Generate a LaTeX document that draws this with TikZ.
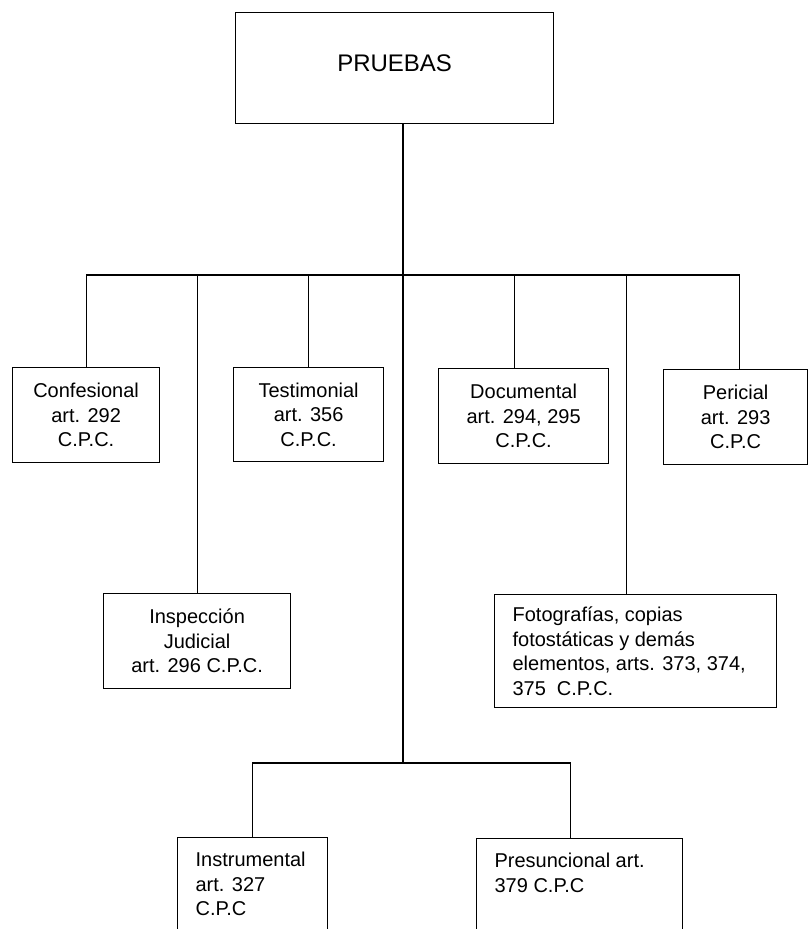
\documentclass[tikz,border=0pt]{standalone}
\usepackage{fontspec}
\setmainfont{Liberation Sans}
\begin{document}
\begin{tikzpicture}[x=1pt,y=-1pt,
  box/.style={draw, line width=1.2pt, rectangle, inner sep=0pt, anchor=north west,
    font=\fontsize{20}{24.5}\selectfont},
  conn/.style={line width=1.2pt}]
\useasboundingbox (0,0) rectangle (808,929);
\clip (0,0) rectangle (808,929);
\fill[white] (0,0) rectangle (808,929);
% root
\node[box] (root) at (235,12) {\parbox[c][111pt][c]{318pt}{\centering\fontsize{24}{28}\selectfont PRUEBAS\par\vspace{9pt}}};
% first level
\node[box] (conf) at (12,367) {\parbox[c][95pt][c]{147pt}{\centering Confesional\\art. 292\\C.P.C.}};
\node[box] (test) at (233,367) {\parbox[c][94pt][c]{150pt}{\centering Testimonial\\art. 356\\C.P.C.}};
\node[box] (doc) at (438,368) {\parbox[c][95pt][c]{170pt}{\centering Documental\\art. 294, 295\\C.P.C.}};
\node[box] (per) at (663,369) {\parbox[c][95pt][c]{144pt}{\centering Pericial\\art. 293\\C.P.C}};
\node[box] (insp) at (103,593) {\parbox[c][95pt][c]{187pt}{\centering Inspección\\Judicial\\art. 296 C.P.C.}};
\node[box, inner xsep=18pt] (foto) at (494,594) {\parbox[c][113pt][c]{246pt}{\raggedright Fotografías, copias\\fotostáticas y demás\\elementos, arts. 373, 374,\\375\hspace{0.55em}C.P.C.}};
% second level
\node[box, inner xsep=18pt] (instr) at (177,837) {\parbox[c][110pt][t]{114pt}{\raggedright\rule{0pt}{29pt}Instrumental\\art. 327\\C.P.C}};
\node[box, inner xsep=18pt] (pres) at (476,838) {\parbox[c][110pt][t]{170pt}{\raggedright\rule{0pt}{29pt}Presuncional art.\\379 C.P.C}};
% connectors
\coordinate (hub) at (403,275);
\coordinate (hub2) at (403,763);
\draw[conn] (root.south -| hub) -- (hub2);
\draw[conn] (conf.north) |- (hub) -| ([xshift=4pt]per.north);
\draw[conn] (test.north) -- (test.north |- hub);
\draw[conn] (insp.north) -- (insp.north |- hub);
\draw[conn] ([xshift=-9pt]doc.north) -- ([xshift=-9pt]doc.north |- hub);
\draw[conn] ([xshift=-9pt]foto.north) -- ([xshift=-9pt]foto.north |- hub);
\draw[conn] (instr.north) |- (hub2) -| ([xshift=-9pt]pres.north);
\end{tikzpicture}
\end{document}
